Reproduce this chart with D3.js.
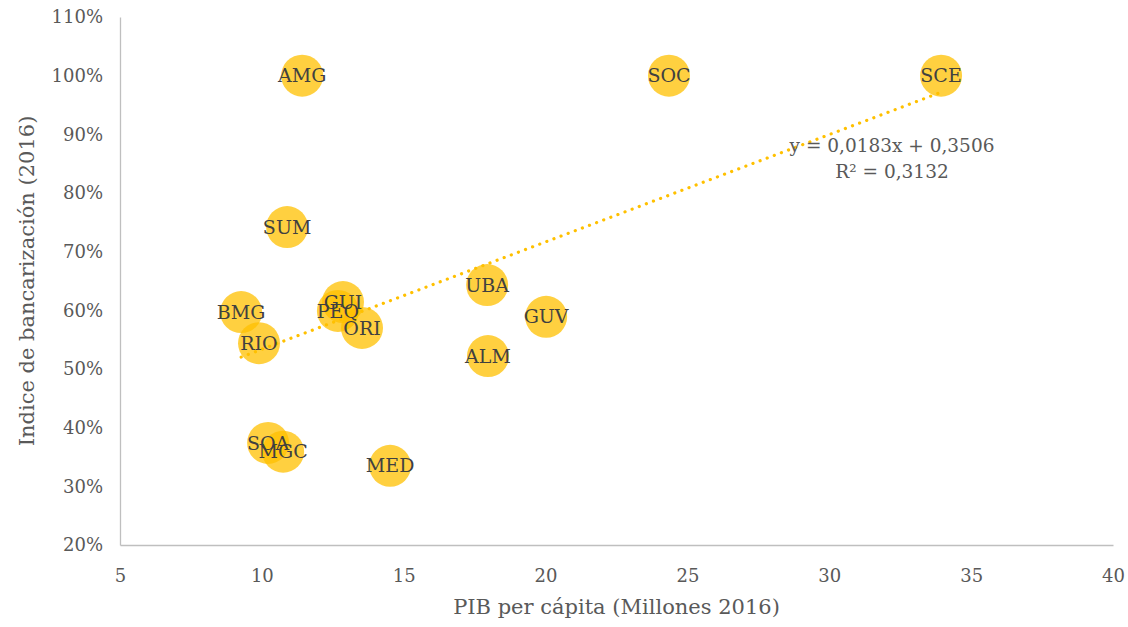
<!DOCTYPE html>
<html>
<head>
<meta charset="utf-8">
<script src="https://cdn.jsdelivr.net/npm/d3@7"></script>
<style>
  html, body { margin: 0; padding: 0; background: #fff; }
  svg { display: block; }
  svg text { font-family: "DejaVu Serif", "Liberation Serif", serif; }
</style>
</head>
<body>
<svg id="chart" width="1128" height="627"></svg>
<script>
// Regions: GDP per capita (millions, 2016) vs banking index (2016)
const regions = ["AMG", "SOC", "SCE", "SUM", "BMG", "RIO", "GUI", "PEQ", "ORI", "UBA", "GUV", "ALM", "SOA", "MGC", "MED"];
const pibPerCapita = [11.42, 24.35, 33.94, 10.89, 9.27, 9.90, 12.86, 12.68, 13.53, 17.94, 20.02, 17.97, 10.22, 10.75, 14.52];
const bancarizacion = [1.00, 1.00, 1.00, 0.742, 0.597, 0.544, 0.614, 0.599, 0.570, 0.643, 0.589, 0.522, 0.374, 0.359, 0.335];

const xTicks = [5, 10, 15, 20, 25, 30, 35, 40];
const yTicks = [0.2, 0.3, 0.4, 0.5, 0.6, 0.7, 0.8, 0.9, 1.0, 1.1];

// Linear trend reported on the chart
const trendSlope = 0.0183;
const trendIntercept = 0.3506;
const trendLabel = ["y = 0,0183x + 0,3506", "R² = 0,3132"];

const svg = d3.select("#chart");
const margin = { left: 120, right: 15, top: 17, bottom: 82 };
const W = 1128, H = 627;

const x = d3.scaleLinear().domain([5, 40]).range([margin.left, W - margin.right]);
const y = d3.scaleLinear().domain([0.2, 1.1]).range([H - margin.bottom, margin.top]);

const axisColor = "#bfbfbf";
const tickColor = "#595959";

// Axes
const xAxis = svg.append("g")
  .attr("transform", `translate(0,${y(0.2)})`)
  .call(d3.axisBottom(x).tickValues(xTicks).tickSize(0).tickPadding(24).tickFormat(d3.format("d")));
xAxis.attr("font-family", null);
xAxis.select(".domain").attr("stroke", axisColor).attr("stroke-width", 1.3);
xAxis.selectAll("text").attr("fill", tickColor).attr("font-size", 18);

const yAxis = svg.append("g")
  .attr("transform", `translate(${x(5)},0)`)
  .call(d3.axisLeft(y).tickValues(yTicks).tickSize(0).tickPadding(17).tickFormat(d3.format(".0%")));
yAxis.attr("font-family", null);
yAxis.select(".domain").attr("stroke", axisColor).attr("stroke-width", 1.3);
yAxis.selectAll("text").attr("fill", tickColor).attr("font-size", 18);

// Bubbles
const data = regions.map((r, i) => ({ name: r, px: pibPerCapita[i], py: bancarizacion[i] }));

svg.append("g").selectAll("circle")
  .data(data)
  .join("circle")
  .attr("cx", d => x(d.px))
  .attr("cy", d => y(d.py))
  .attr("r", 21)
  .attr("fill", "#FFC000")
  .attr("fill-opacity", 0.75);

// Trend line (dotted)
const xMin = d3.min(pibPerCapita), xMax = d3.max(pibPerCapita);
svg.append("line")
  .attr("x1", x(xMin)).attr("y1", y(trendSlope * xMin + trendIntercept))
  .attr("x2", x(xMax)).attr("y2", y(trendSlope * xMax + trendIntercept))
  .attr("stroke", "#FFC000")
  .attr("stroke-width", 3.2)
  .attr("stroke-linecap", "round")
  .attr("stroke-dasharray", "0.1 7.5");

// Bubble labels
svg.append("g").selectAll("text")
  .data(data)
  .join("text")
  .attr("x", d => x(d.px))
  .attr("y", d => y(d.py))
  .attr("dy", "0.35em")
  .attr("text-anchor", "middle")
  .attr("font-size", 19)
  .attr("fill", "#404040")
  .text(d => d.name);

// Trend equation
svg.append("g").selectAll("text")
  .data(trendLabel)
  .join("text")
  .attr("x", 892)
  .attr("y", (d, i) => 152 + i * 26)
  .attr("text-anchor", "middle")
  .attr("font-size", 18.5)
  .attr("fill", tickColor)
  .text(d => d);

// Axis titles
svg.append("text")
  .attr("x", (x(5) + x(40)) / 2)
  .attr("y", 614)
  .attr("text-anchor", "middle")
  .attr("font-size", 21)
  .attr("fill", tickColor)
  .text("PIB per cápita (Millones 2016)");

svg.append("text")
  .attr("transform", `translate(34,${(y(0.2) + y(1.1)) / 2}) rotate(-90)`)
  .attr("text-anchor", "middle")
  .attr("font-size", 21)
  .attr("fill", tickColor)
  .text("Indice de bancarización (2016)");
</script>
</body>
</html>
